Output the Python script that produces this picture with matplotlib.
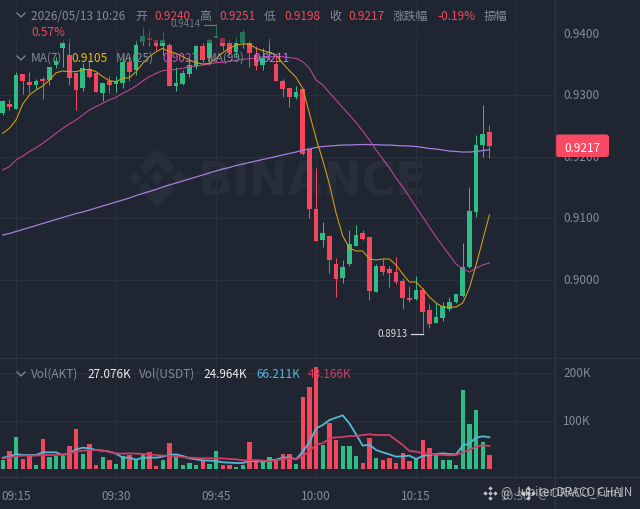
import matplotlib
matplotlib.use("Agg")
import matplotlib.pyplot as plt
from matplotlib.patches import FancyBboxPatch, Polygon, Rectangle
from matplotlib.transforms import ScaledTranslation

plt.rcParams['font.family'] = ['Noto Sans CJK SC', 'DejaVu Sans']

# 1 minute candles, 09:13 to 10:26
opens = [.9270,.9285,.9278,.9334,.9321,.9316,.9326,.9324,.9348,.9376,.9365,.9336,.9311,.9342,.9336,.9304,.9322,.9318,.9320,.9354,
         .9341,.9387,.9392,.9390,.9379,.9382,.9315,.9318,.9334,.9346,.9379,.9361,.9392,.9393,.9384,.9370,.9384,.9384,.9365,.9349,
         .9368,.9350,.9323,.9312,.9296,.9309,.9212,.9115,.9064,.9071,.9026,.9002,.9025,.9055,.9076,.9069,.8979,.9022,.9017,.9013,
         .8998,.8970,.8968,.8983,.8951,.8930,.8937,.8952,.8964,.8973,.9020,.9110,.9218,.9240]
highs = [.9292,.9294,.9338,.9334,.9338,.9326,.9330,.9345,.9362,.9390,.9392,.9336,.9352,.9357,.9336,.9319,.9331,.9331,.9362,.9365,
         .9390,.9410,.9406,.9390,.9402,.9385,.9346,.9340,.9360,.9381,.9384,.9392,.9414,.9393,.9390,.9395,.9407,.9390,.9379,.9376,
         .9392,.9365,.9326,.9312,.9314,.9309,.9212,.9181,.9094,.9072,.9035,.9032,.9081,.9089,.9081,.9069,.9026,.9034,.9022,.9036,
         .9002,.8990,.9006,.8986,.8960,.8962,.8964,.8971,.8976,.9059,.9151,.9235,.9284,.9251]
lows = [.9268,.9276,.9278,.9301,.9303,.9309,.9294,.9316,.9344,.9346,.9316,.9276,.9307,.9327,.9305,.9291,.9303,.9305,.9311,.9322,
        .9333,.9381,.9379,.9373,.9365,.9314,.9307,.9316,.9330,.9343,.9354,.9349,.9392,.9374,.9365,.9362,.9376,.9346,.9340,.9341,
        .9357,.9322,.9297,.9281,.9294,.9203,.9100,.9062,.9053,.9011,.8972,.8994,.9022,.9054,.9065,.8967,.8979,.9007,.8988,.8993,
        .8952,.8964,.8967,.8913,.8921,.8929,.8933,.8949,.8962,.8972,.9018,.9101,.9200,.9198]
closes = [.9290,.9281,.9333,.9322,.9317,.9322,.9322,.9345,.9356,.9384,.9327,.9308,.9344,.9330,.9305,.9319,.9317,.9323,.9354,.9338,
          .9382,.9396,.9390,.9380,.9390,.9315,.9319,.9335,.9348,.9379,.9357,.9390,.9396,.9380,.9368,.9384,.9403,.9369,.9347,.9360,
          .9370,.9322,.9310,.9297,.9305,.9204,.9115,.9062,.9076,.9032,.9001,.9021,.9057,.9072,.9066,.8982,.9022,.9012,.9011,.8996,
          .8970,.8966,.8983,.8947,.8928,.8939,.8957,.8964,.8976,.9021,.9111,.9219,.9236,.9217]

ma7 = [.92377,.92458,.92594,.92854,.93000,.93082,.93147,.93244,.93363,.93390,.93380,.93380,.93407,.93418,.93380,.93298,.93233,.93217,.93271,.93282,
       .93380,.93515,.93624,.93705,.93759,.93705,.93678,.93624,.93569,.93526,.93504,.93515,.93596,.93689,.93759,.93813,.93830,.93830,.93759,.93721,
       .93694,.93651,.93515,.93396,.93288,.93109,.92702,.92296,.91943,.91553,.91082,.90708,.90513,.90464,.90464,.90334,.90317,.90334,.90334,.90236,
       .90090,.89960,.89960,.89846,.89716,.89618,.89553,.89553,.89553,.89618,.89862,.90236,.90643,.91050]
ma25 = [.91781,.91835,.91943,.92008,.92079,.92144,.92214,.92296,.92377,.92458,.92529,.92594,.92675,.92756,.92811,.92865,.92919,.92962,.93027,.93082,
        .93147,.93228,.93298,.93353,.93396,.93407,.93418,.93434,.93461,.93472,.93488,.93504,.93526,.93531,.93548,.93569,.93580,.93591,.93596,.93624,
        .93624,.93624,.93624,.93607,.93596,.93542,.93434,.93244,.93163,.93039,.92919,.92795,.92675,.92553,.92415,.92269,.92106,.91960,.91813,.91650,
        .91504,.91342,.91179,.91017,.90854,.90691,.90545,.90399,.90252,.90171,.90122,.90187,.90236,.90270]
ma99 = [.90724,.90748,.90781,.90813,.90846,.90878,.90911,.90943,.90976,.91009,.91041,.91074,.91098,.91130,.91163,.91195,.91228,.91261,.91293,.91326,
        .91366,.91399,.91431,.91464,.91504,.91537,.91570,.91602,.91635,.91667,.91700,.91732,.91765,.91797,.91821,.91854,.91878,.91903,.91927,.91952,
        .91976,.92000,.92025,.92049,.92073,.92106,.92122,.92147,.92163,.92171,.92179,.92187,.92187,.92192,.92195,.92195,.92192,.92187,.92187,.92179,
        .92174,.92171,.92163,.92147,.92130,.92122,.92106,.92090,.92082,.92073,.92073,.92082,.92098,.92110]

# volume in thousands
vols = [18.7,37.5,66.6,20.1,27.8,8.3,61.8,25.7,27.1,27.8,48.6,82.6,31.2,51.4,7.6,25.0,19.4,10.4,27.1,29.1,
        20.1,29.1,34.7,6.9,18.7,54.1,30.5,7.6,13.2,8.3,18.7,10.4,37.5,7.6,7.6,4.9,8.3,56.9,13.9,15.3,
        24.3,16.7,30.5,31.2,9.7,150.6,170.0,211.7,50.0,95.8,60.4,47.9,48.6,27.8,12.5,65.2,22.2,18.7,22.2,13.2,
        32.6,16.7,20.8,61.1,43.0,29.1,18.7,18.0,7.6,163.8,93.0,122.8,56.9,29.1]
vol_ma1 = [23.6,25.7,31.2,29.1,29.1,29.1,34.7,34.7,34.7,29.1,32.6,40.9,44.4,43.0,39.6,38.2,36.1,31.9,23.6,23.6,
           19.4,23.6,23.6,23.6,25.7,29.1,30.5,27.1,22.2,20.1,18.0,17.4,16.7,13.9,13.2,12.5,12.5,16.7,16.7,15.3,
           18.0,19.4,23.6,24.3,20.1,36.1,55.5,84.7,91.6,102.0,106.9,111.7,95.1,72.2,48.6,50.7,39.6,34.7,30.5,25.7,
           26.4,27.8,20.8,27.1,29.1,31.2,32.6,31.2,30.5,48.6,53.4,65.2,68.0,66.2]
vol_ma2 = [22.2,23.6,27.1,27.8,27.8,27.8,29.1,29.1,29.1,30.5,32.6,36.1,38.2,38.9,39.6,38.2,36.1,32.6,31.9,32.6,
           31.9,31.2,30.5,29.1,27.8,27.1,27.1,25.0,23.6,22.9,22.2,22.2,22.2,22.2,20.8,20.1,18.0,18.0,18.7,17.4,
           16.7,18.0,20.8,22.2,20.1,27.1,36.1,51.4,53.4,63.8,65.9,66.6,68.7,68.7,70.8,72.2,70.8,70.8,70.8,60.4,
           50.0,37.5,36.1,32.6,31.9,30.5,29.1,28.5,29.1,34.7,39.6,46.5,49.3,48.2]

time_pos = [2, 17, 32, 47, 62, 77]
time_labels = ['09:15', '09:30', '09:45', '10:00', '10:15', '10:30']
price_ticks = [0.90, 0.91, 0.92, 0.93, 0.94]
vol_ticks = [100, 200]

BG = '#1f2631'
GRID = '#2a313c'
LINE = '#2d343f'
GRAY = '#858c98'
UP = '#2ebd85'
DOWN = '#f6465d'
YEL = '#d9a30c'
MAG = '#c9439f'
PUR = '#a57ee0'
CYAN = '#55b9d6'
CRIM = '#d13c63'

W, H = 640, 509
fig = plt.figure(figsize=(6.4, 5.09), dpi=100, facecolor=BG)
ax = fig.add_axes([0, (H-358)/H, 555/W, 358/H], facecolor=BG)
axv = fig.add_axes([0, (H-477)/H, 555/W, 119/H], facecolor=BG)

# overlay in picture pixels, for the labels that float over the chart
ov = fig.add_axes([0, 0, 1, 1], zorder=5)
ov.set_xlim(0, W)
ov.set_ylim(H, 0)
ov.axis('off')
ov.patch.set_alpha(0)

x = list(range(len(opens)))
xlim = (-0.405, 82.84)
colors = [UP if c >= o else DOWN for o, c in zip(opens, closes)]

# candles
ax.vlines(x, lows, highs, colors=colors, lw=0.72, zorder=3)
bottoms = [min(o, c) for o, c in zip(opens, closes)]
heights = [max(abs(o-c), 0.0002) for o, c in zip(opens, closes)]
ax.bar(x, heights, bottom=bottoms, width=0.72, color=colors, zorder=3)

ax.plot(x, ma99, color=PUR, lw=0.9, zorder=4)
ax.plot(x, ma25, color=MAG, lw=0.75, zorder=4)
ax.plot(x, ma7, color=YEL, lw=0.75, zorder=4)

ax.set_xlim(xlim)
ax.set_ylim(0.88724, 0.94545)
ax.set_xticks(time_pos)
ax.set_xticklabels([])
ax.yaxis.tick_right()
ax.set_yticks(price_ticks)
ax.set_yticklabels(['%.4f' % p for p in price_ticks])
ax.tick_params(length=0, labelsize=8.5, labelcolor=GRAY, pad=5.8)
ax.grid(color=GRID, lw=0.8)
ax.set_axisbelow(True)
for s in ax.spines.values():
    s.set_visible(False)

# volume
axv.bar(x, vols, width=0.65, color=colors, zorder=3)
axv.plot(x, vol_ma1, color=CYAN, lw=1.3, zorder=4)
axv.plot(x, vol_ma2, color=CRIM, lw=1.3, zorder=4)
axv.set_xlim(xlim)
axv.set_ylim(-16.7, 231.25)
axv.set_xticks(time_pos)
axv.set_xticklabels(time_labels)
axv.yaxis.tick_right()
axv.set_yticks(vol_ticks)
axv.set_yticklabels(['%dK' % v for v in vol_ticks])
axv.tick_params(length=0, labelsize=8.5, labelcolor=GRAY)
axv.tick_params(axis='y', pad=5.8)
axv.tick_params(axis='x', pad=9)
axv.grid(color=GRID, lw=0.8)
axv.set_axisbelow(True)
for s in axv.spines.values():
    s.set_visible(False)

# the axis labels sit a pixel high in the reference
up_1px = ScaledTranslation(0, 1/100, fig.dpi_scale_trans)
for t in ax.get_yticklabels() + axv.get_yticklabels():
    t.set_transform(t.get_transform() + up_1px)

# faint watermark behind the candles
WM = '#272e39'
ax.text(198, 195, 'BINANCE', transform=ov.transData, color=WM, fontsize=33,
        fontweight='bold', family='DejaVu Sans', va='baseline', ha='left', zorder=1)
logo = [
    [(157, 171), (164, 178), (157, 185), (150, 178)],
    [(135, 171), (142, 178), (135, 185), (128, 178)],
    [(179, 171), (186, 178), (179, 185), (172, 178)],
    [(157, 149), (175, 167), (168, 174), (157, 163), (146, 174), (139, 167)],
    [(157, 207), (175, 189), (168, 182), (157, 193), (146, 182), (139, 189)],
]
for pts in logo:
    ax.add_patch(Polygon(pts, closed=True, transform=ov.transData, color=WM, lw=0, zorder=1))

# the header fades the candles under it
ax.add_patch(Rectangle((0, 0), 555, 43, transform=ov.transData, color=BG, alpha=0.5, lw=0, zorder=5))

# frame lines
ov.plot([555, 555], [0, H], color=LINE, lw=1)
ov.plot([0, W], [358, 358], color=LINE, lw=1)
ov.plot([0, W], [477, 477], color=LINE, lw=1)


def label(px, py, s, color=GRAY, size=8.5, **kw):
    ov.text(px, py, s, color=color, fontsize=size, va='center', ha='left', **kw)


def chevron(px, py):
    ov.plot([px-4, px, px+4], [py-2, py+2, py-2], color=GRAY, lw=0.9)


chevron(21, 15)
label(31, 16, '2026/05/13 10:26')
label(135, 16, '开')
label(154, 16, '0.9240', DOWN)
label(199, 16, '高')
label(219, 16, '0.9251', DOWN)
label(264, 16, '低')
label(284, 16, '0.9198', DOWN)
label(329, 16, '收')
label(348.5, 16, '0.9217', DOWN)
label(393, 16, '涨跌幅')
label(437, 16, '-0.19%', DOWN)
label(484, 16, '振幅')
label(31, 32, '0.57%', DOWN)

chevron(21, 58)
label(31, 58.5, 'MA(7)')
label(71, 58.5, '0.9105', '#f0b90b')
label(116, 58.5, 'MA(25)')
label(162, 58.5, '0.9027', '#d44dbb')
label(207, 58.5, 'MA(99)')
label(253, 58.5, '0.9211', '#b57bff')

chevron(21, 374)
label(31, 374.5, 'Vol(AKT)')
label(87, 374.5, '27.076K', '#eaecef')
label(139, 374.5, 'Vol(USDT)')
label(203, 374.5, '24.964K', '#eaecef')
label(256, 374.5, '66.211K', CYAN)
label(308, 374.5, '48.166K', CRIM)

# high and low marks
label(170.5, 24, '0.9414', '#70767f', size=7)
ov.plot([204, 216], [24.5, 24.5], color='#70767f', lw=0.9)
label(378, 334, '0.8913', '#d5d8dc', size=7)
ov.plot([411, 423], [334, 334], color='#d5d8dc', lw=0.9)

# last price tag
ov.add_patch(FancyBboxPatch((555.5, 134.5), 53.5, 22.5, boxstyle='round,pad=0,rounding_size=3',
                            facecolor='#fa4a63', edgecolor='none'))
label(564, 148, '0.9217', '#ffffff')

# share marks over the time axis
for cx in [490, 527.5]:
    for dx, dy in [(0, 0), (-5, 0), (5, 0), (0, -5), (0, 5)]:
        ov.plot(cx+dx, 492.5+dy, marker='D', ms=2.2, color='#dfe2e6', mew=0, alpha=0.85)
label(501, 492.5, '@ Jupiter DRACO CHAIN', '#d5d8dc', size=8.4, alpha=0.8)
label(538, 492.5, '@ DRACO_Fun1', '#d5d8dc', size=8.4, alpha=0.65)

fig.savefig('out.png', dpi=100, facecolor=BG)
